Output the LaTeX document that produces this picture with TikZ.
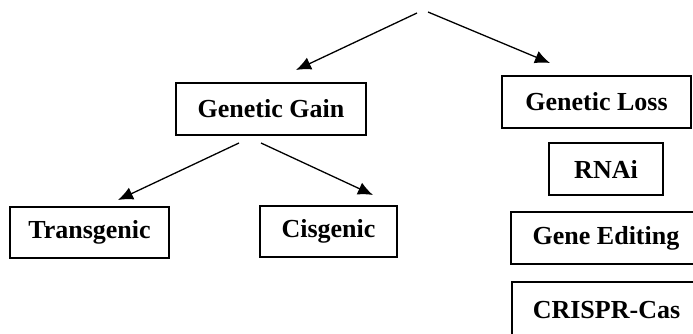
\documentclass[tikz,border=0pt]{standalone}
\usepackage{fontspec}
\setmainfont{Liberation Serif}
\usetikzlibrary{arrows.meta,positioning}
\tikzset{box/.style={draw, line width=1.5pt, inner sep=0pt,
                     font=\fontsize{26}{30}\selectfont\bfseries}}

\begin{document}
\begin{tikzpicture}[
                    >={Latex[length=15pt,width=13pt]},
                x=1pt, y=-1pt]
                \useasboundingbox (0,0) rectangle (693,333);

                \draw(271,109) node[box, minimum width=190, minimum height=52] (gain) {Genetic Gain};
                \draw(596.5,102) node[box, minimum width=189, minimum height=52] (loss) {Genetic Loss};
                \draw(606,169) node[box, minimum width=114, minimum height=52] (rnai) {RNAi};
                \draw(606,238) node[box, minimum width=190, minimum height=52] (edit) {Gene Editing};
                \draw(606.5,310) node[box, minimum width=189, minimum height=56] (crispr) {CRISPR-Cas};
                \draw(89.5,232.5) node[box, minimum width=159, minimum height=51] (trans) {Transgenic};
                \draw(328.5,231.5) node[box, minimum width=137, minimum height=51] (cis) {Cisgenic};

                % free ends of the arrows
                \coordinate (topL) at (417,13);
                \coordinate (topR) at (428,12);
                \coordinate (gainL) at (239,143);
                \coordinate (gainR) at (261,143);
                \coordinate (tipGain) at (296,70);
                \coordinate (tipLoss) at (550,63);
                \coordinate (tipTrans) at (118,200);
                \coordinate (tipCis) at (373,195);

                \draw[->,line width=1.3pt] (topL) -- (tipGain);
                \draw[->,line width=1.3pt] (topR) -- (tipLoss);
                \draw[->,line width=1.3pt] (gainL) -- (tipTrans);
                \draw[->,line width=1.3pt] (gainR) -- (tipCis);

            \end{tikzpicture}
\end{document}
